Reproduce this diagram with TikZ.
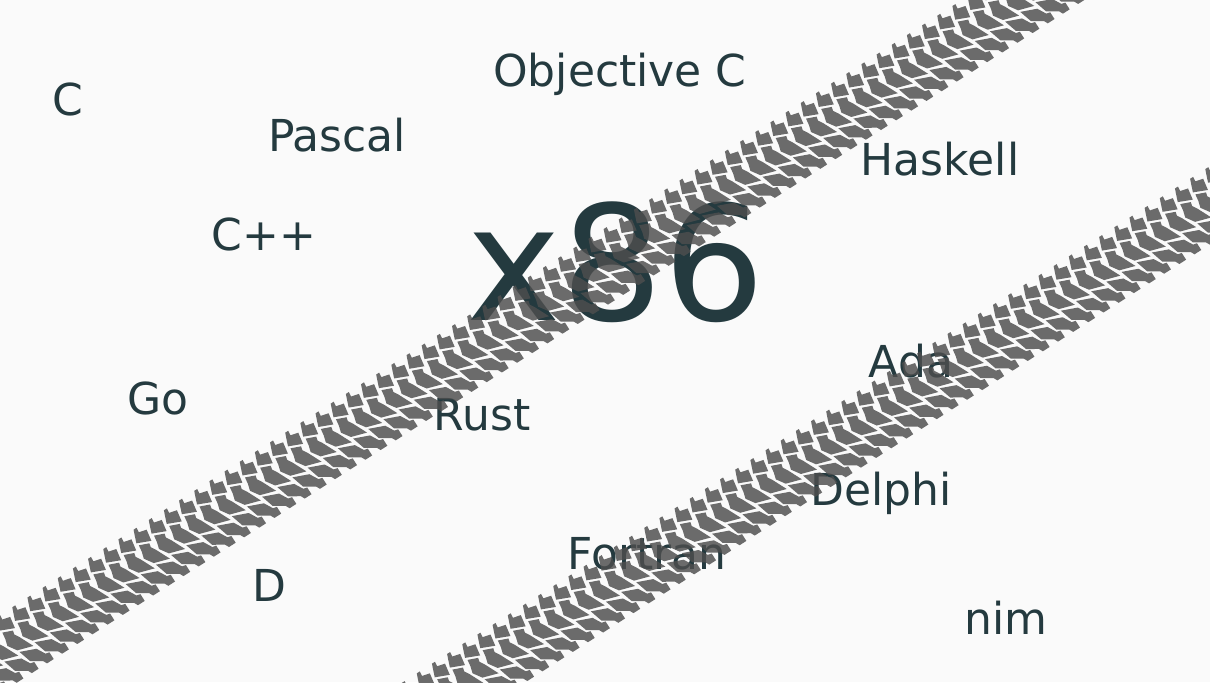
\documentclass[tikz,border=0pt]{standalone}
\usepackage{fontspec}
\setmainfont{DejaVu Sans}
\definecolor{inkslate}{HTML}{243A3F}
\definecolor{paper}{HTML}{FAFAFA}
\definecolor{rubber}{HTML}{4E4E4E}
\tikzset{
  lang/.style={anchor=base, inner sep=0pt, text=inkslate, font=\fontsize{22}{27}\selectfont},
  lug/.style={fill=rubber, fill opacity=0.83},
  treadlug/.pic={
    \fill[lug] (0,0) -- (3.5,0) -- (3,-5) -- (11,-7) -- (9,-19) -- (-5,-13) -- (-2,-5) -- cycle;
    \fill[lug] (-4,-16) -- (6,-20) -- (5,-24) -- (8,-29) -- (15,-44) -- (-1,-39) -- (-7,-30) -- (-5,-23) -- cycle;
    \fill[lug] (0,-41.5) -- (16,-48) -- (21,-57) -- (25,-58) -- (25,-66) -- (17,-66) -- (15,-62) -- (4,-55) -- cycle;
  }
}
\begin{document}
\begin{tikzpicture}[x=0.5pt, y=0.5pt]
\fill[paper] (0,0) rectangle (1210,-682);
\useasboundingbox (0,0) rectangle (1210,-682);
\clip (0,0) rectangle (1210,-682);
\node[lang] (c) at (68,-115) {C};
\node[lang] (objc) at (620,-86) {Objective C};
\node[lang] (pascal) at (337,-151) {Pascal};
\node[lang] (haskell) at (940,-175) {Haskell};
\node[lang] (cpp) at (264,-250) {C++};
\node[lang, font=\fontsize{80}{96}\selectfont] (arch) at (616,-320) {x86};
\node[lang] (go) at (158,-414) {Go};
\node[lang] (rust) at (482,-430) {Rust};
\node[lang] (ada) at (911,-377) {Ada};
\node[lang] (delphi) at (881,-505) {Delphi};
\node[lang] (fortran) at (647,-569) {Fortran};
\node[lang] (d) at (269,-601) {D};
\node[lang] (nim) at (1006,-634) {nim};
\begin{scope}[shift={(-200,-743)}, rotate=32.6]
  \foreach \i in {0,...,92}
    \pic[transform shape] at (\i*18,0) {treadlug};
\end{scope}
\begin{scope}[shift={(250,-780)}, rotate=32.6]
  \foreach \i in {0,...,78}
    \pic[transform shape] at (\i*18,0) {treadlug};
\end{scope}
\end{tikzpicture}
\end{document}
